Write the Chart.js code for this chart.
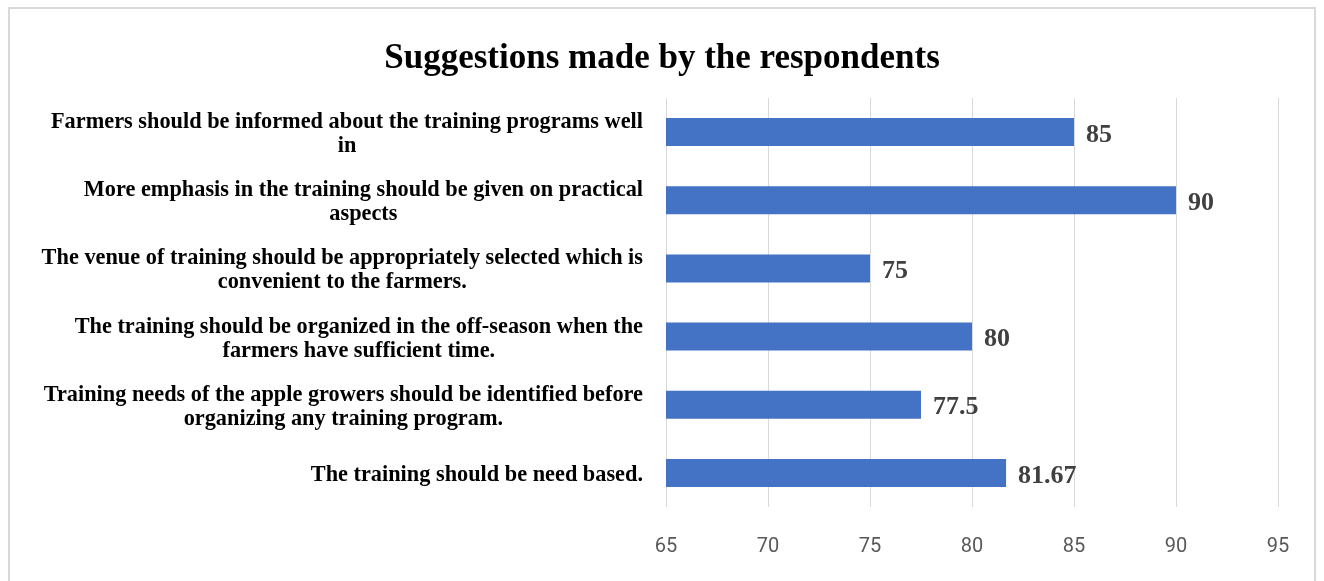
<!DOCTYPE html>
<html>
<head>
<meta charset="utf-8">
<script src="https://cdn.jsdelivr.net/npm/chart.js@4.4.1/dist/chart.umd.min.js"></script>
<style>
    html, body { margin: 0; padding: 0; background: #fff; }
    #wrap { position: relative; width: 1324px; height: 581px; overflow: hidden; }
    #frame {
        position: absolute; left: 8px; top: 7px; width: 1308px; height: 600px;
        border: 2px solid #d9d9d9; box-sizing: border-box; pointer-events: none;
    }
    canvas { position: absolute; left: 0; top: 0; }
</style>
</head>
<body>
<div id="wrap">
    <canvas id="chart" width="1324" height="581"></canvas>
    <div id="frame"></div>
</div>
<script>
// ---------- Data ----------
const chartTitle = "Suggestions made by the respondents";

const categories = [
    ["Farmers should be informed about the training programs well", "in"],
    ["More emphasis in the training should be given on practical", "aspects"],
    ["The venue of training should be appropriately selected which is", "convenient to the farmers."],
    ["The training should be organized in the off-season when the", "farmers have sufficient time."],
    ["Training needs of the apple growers should be identified before", "organizing any training program."],
    ["The training should be need based."]
];

const values = [85, 90, 75, 80, 77.5, 81.67];
const valueLabels = ["85", "90", "75", "80", "77.5", "81.67"];

const xMin = 65;
const xMax = 95;
const xStep = 5;

// ---------- Helpers ----------
const SERIF = "'Liberation Serif', 'Times New Roman', serif";
const NARROW = "'Liberation Sans Narrow', 'Arial Narrow', Roboto, sans-serif";

// category labels: block right-aligned, lines centered inside the block
const categoryLabels = {
    id: "categoryLabels",
    afterDraw(chart) {
        const ctx = chart.ctx;
        const y = chart.scales.y;
        const rightEdge = 643;
        const lineH = 24;
        const squeeze = 0.97;
        ctx.save();
        ctx.font = "bold 23px " + SERIF;
        ctx.fillStyle = "#000";
        ctx.textAlign = "center";
        ctx.textBaseline = "middle";
        categories.forEach((lines, i) => {
            const cy = y.getPixelForValue(i) + 2;
            const w = Math.max(...lines.map(l => ctx.measureText(l).width)) * squeeze;
            const cx = rightEdge - w / 2;
            const top = cy - (lines.length - 1) * lineH / 2;
            lines.forEach((l, j) => {
                ctx.fillText(l, cx, top + j * lineH, ctx.measureText(l).width * squeeze);
            });
        });
        ctx.restore();
    }
};

// value labels at the bar ends
const valueLabelPlugin = {
    id: "valueLabels",
    afterDatasetsDraw(chart) {
        const ctx = chart.ctx;
        const meta = chart.getDatasetMeta(0);
        ctx.save();
        ctx.font = "bold 26px " + SERIF;
        ctx.fillStyle = "#404040";
        ctx.textAlign = "left";
        ctx.textBaseline = "middle";
        meta.data.forEach((bar, i) => {
            ctx.fillText(valueLabels[i], bar.x + 12, bar.y + 3);
        });
        ctx.restore();
    }
};

// ---------- Chart ----------
new Chart(document.getElementById("chart"), {
    type: "bar",
    data: {
        labels: categories,
        datasets: [{
            data: values,
            backgroundColor: "#4472C4",
            borderWidth: 0,
            categoryPercentage: 1,
            barPercentage: 0.41
        }]
    },
    options: {
        indexAxis: "y",
        responsive: false,
        animation: false,
        devicePixelRatio: 1,
        layout: { padding: { left: 46, right: 46, top: 0, bottom: 0 } },
        plugins: {
            legend: { display: false },
            tooltip: { enabled: false },
            title: {
                display: true,
                text: chartTitle,
                color: "#000",
                font: { family: SERIF, size: 35, weight: "bold" },
                padding: { top: 38, bottom: 18 }
            }
        },
        scales: {
            x: {
                min: xMin,
                max: xMax,
                ticks: {
                    stepSize: xStep,
                    color: "#595959",
                    font: { family: NARROW, size: 20 },
                    padding: 28
                },
                grid: { color: "#d9d9d9", lineWidth: 1, drawTicks: false },
                border: { display: false },
                afterFit(scale) { scale.height = 74; }
            },
            y: {
                ticks: { display: false },
                grid: { display: false },
                border: { display: false },
                afterFit(scale) { scale.width = 620; }
            }
        }
    },
    plugins: [categoryLabels, valueLabelPlugin]
});
</script>
</body>
</html>
